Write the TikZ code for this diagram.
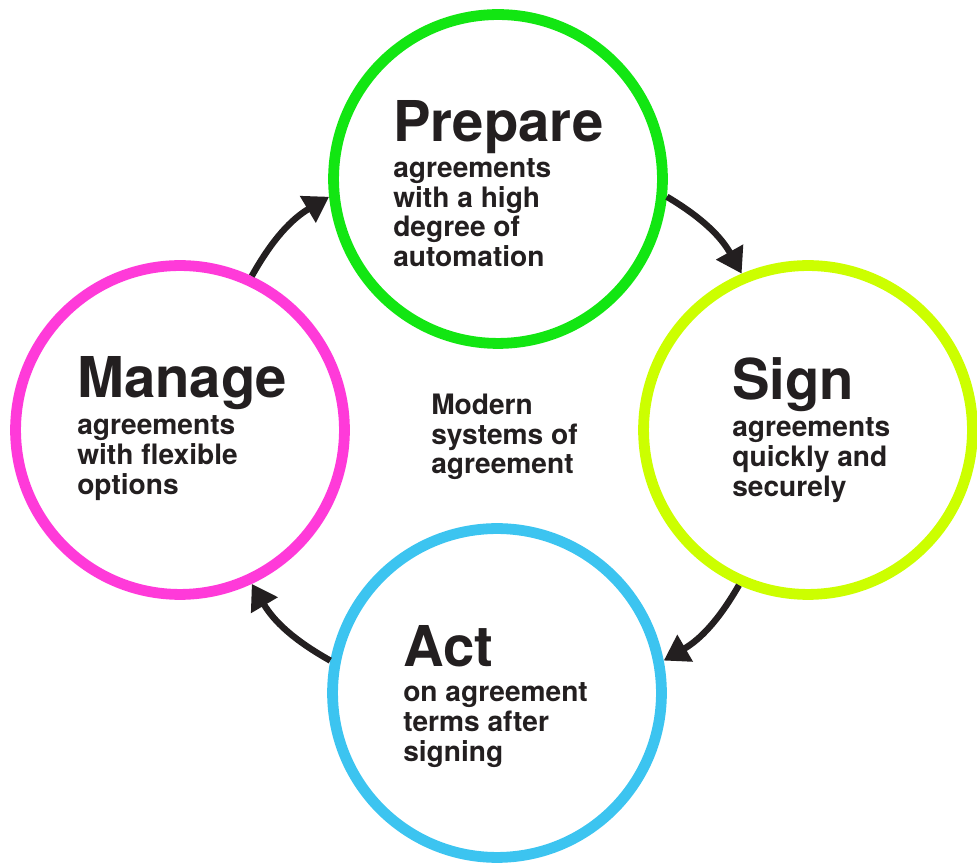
\documentclass[tikz,border=0pt]{standalone}
\usepackage{fontspec}
\setmainfont{TeX Gyre Heros}
\usepackage{xcolor}
\usetikzlibrary{arrows.meta,positioning}
\definecolor{prepgreen}{HTML}{12E612}
\definecolor{signlime}{HTML}{CCFF00}
\definecolor{actblue}{HTML}{3CC4F0}
\definecolor{managepink}{HTML}{FF3AD9}
\definecolor{ink}{HTML}{231F20}

\begin{document}
\begin{tikzpicture}[x=0.025cm, y=0.025cm, text=ink]
    % Define styles
    \tikzstyle{stage} = [circle, draw, line width=0.27cm, minimum size=8.22cm, inner sep=0pt]
    \tikzstyle{title} = [anchor=base west, inner sep=0pt, font=\fontsize{40}{44}\selectfont\bfseries]
    \tikzstyle{body} = [anchor=base west, inner sep=0pt, align=left, font=\fontsize{20}{21}\selectfont\bfseries]
    \tikzstyle{flow} = [ink, line width=0.16cm, -{Triangle[length=0.62cm, width=0.74cm]}]

    \useasboundingbox (0,0) rectangle (977,866);

    % Circles
    \node [stage, draw=prepgreen] (prepare) at (498,687) {};
    \node [stage, draw=signlime] (sign) at (808,436) {};
    \node [stage, draw=actblue] (act) at (497,173) {};
    \node [stage, draw=managepink] (manage) at (180,436) {};

    % Prepare
    \node [title] (prepare-title) at ([shift={(-105,37)}]prepare.center) {Prepare};
    \node [body, below=3.11cm of prepare-title.base west, anchor=base west] (prepare-text) {agreements\\with a high\\degree of\\automation};

    % Sign
    \node [title] (sign-title) at ([shift={(-76,30)}]sign.center) {Sign};
    \node [body, below=2.4cm of sign-title.base west, anchor=base west] (sign-text) {agreements\\quickly and\\securely};

    % Act
    \node [title] (act-title) at ([shift={(-94,26)}]act.center) {Act};
    \node [body, below=2.35cm of act-title.base west, anchor=base west] (act-text) {on agreement\\terms after\\signing};

    % Manage
    \node [title] (manage-title) at ([shift={(-103,32)}]manage.center) {Manage};
    \node [body, below=2.4cm of manage-title.base west, anchor=base west] (manage-text) {agreements\\with flexible\\options};

    % Centre
    \node [body] (centre) at (431,392) {Modern\\systems of\\agreement};

    % Arrows
    \draw [flow] (prepare.-6) to[bend left=15] (sign.113);
    \draw [flow] (sign.246) to[bend left=15] (act.11);
    \draw [flow] (act.169) to[bend left=15] (manage.-65);
    \draw [flow] (manage.65) to[bend left=15] (prepare.186);
\end{tikzpicture}
\end{document}
